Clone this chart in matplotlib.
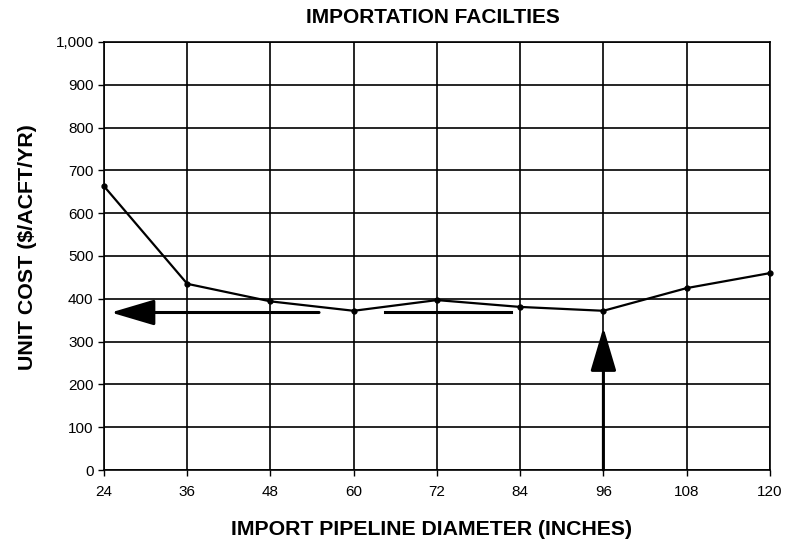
import matplotlib.pyplot as plt

# pipeline diameter (inches) vs unit cost ($/ACFT/YR)
diameters = [24, 36, 48, 60, 72, 84, 96, 108, 120]
unit_cost = [663, 435, 394, 372, 397, 381, 372, 425, 460]

x_ticks = [24, 36, 48, 60, 72, 84, 96, 108, 120]
y_ticks = [0, 100, 200, 300, 400, 500, 600, 700, 800, 900, 1000]
y_labels = ['0', '100', '200', '300', '400', '500', '600', '700', '800', '900', '1,000']

# annotation arrows: (tail, tip)
left_arrow = [(55, 368), (25, 368)]
right_dash = [(64.5, 370), (82.7, 370)]
up_arrow = [(96, 0), (96, 333)]

plt.rcParams['font.family'] = ['Liberation Sans', 'DejaVu Sans']

fig = plt.figure(figsize=(7.88, 5.43), dpi=100)
ax = fig.add_axes([0.132, 0.1344, 0.845, 0.7883])

ax.plot(diameters, unit_cost, color='black', lw=1.6, marker='o', ms=3.5, clip_on=False, zorder=3)

ax.set_xlim(24, 120)
ax.set_ylim(0, 1000)
ax.set_xticks(x_ticks)
ax.set_yticks(y_ticks)
ax.set_yticklabels(y_labels)
ax.tick_params(axis='both', labelsize=11, color='black', direction='out', length=4, width=1)
ax.tick_params(axis='x', pad=7)
ax.grid(True, color='black', lw=1.2)
for s in ax.spines.values():
    s.set_linewidth(1.2)

arrow_kw = dict(arrowstyle='-|>,head_length=2.7,head_width=0.8', color='black', lw=2.2,
                shrinkA=0, shrinkB=0, mutation_scale=10)
ax.annotate('', xy=left_arrow[1], xytext=left_arrow[0], arrowprops=arrow_kw)
ax.annotate('', xy=up_arrow[1], xytext=up_arrow[0], arrowprops=arrow_kw)
ax.plot([p[0] for p in right_dash], [p[1] for p in right_dash], color='black', lw=2.2)

fig.text(0.549, 0.968, 'IMPORTATION FACILTIES', ha='center', va='center', fontsize=15, fontweight='bold')
fig.text(0.547, 0.024, 'IMPORT PIPELINE DIAMETER (INCHES)', ha='center', va='center',
         fontsize=15.3, fontweight='bold')
fig.text(0.035, 0.545, 'UNIT COST ($/ACFT/YR)', ha='center', va='center', rotation=90,
         fontsize=15.4, fontweight='bold')

fig.savefig('out.png', dpi=100)
